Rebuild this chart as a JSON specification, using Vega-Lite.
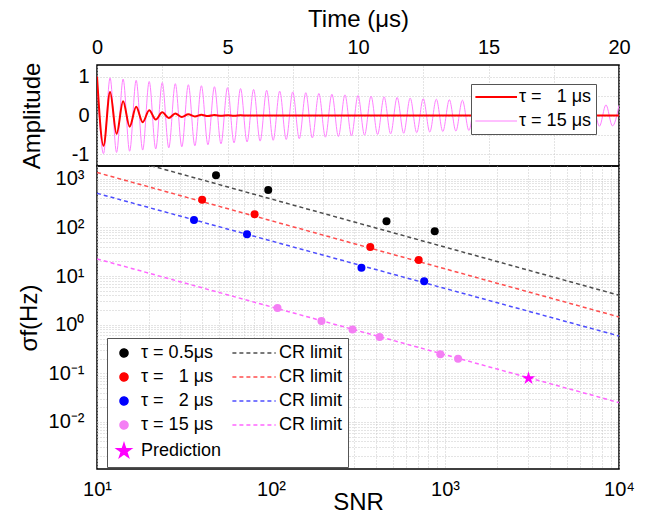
{
  "$schema": "https://vega.github.io/schema/vega-lite/v6.json",
  "padding": {"left": 16, "top": 6, "right": 5, "bottom": 0},
  "background": "white",
  "spacing": 0,
  "bounds": "flush",
  "config": {
    "font": "Liberation Sans",
    "view": {"stroke": "black", "strokeWidth": 1.5},
    "axis": {
      "labelColor": "black", "titleColor": "black", "titleFontWeight": "normal",
      "labelFontSize": 20, "titleFontSize": 24, "tickColor": "black", "tickWidth": 1,
      "domain": false, "tickSize": 0, "gridColor": "#c8c8c8", "gridDash": [1, 2], "gridWidth": 1,
      "labelOverlap": false, "labelFlush": false, "labelFont": "Liberation Sans", "titleFont": "Liberation Sans"
    },
    "legend": {"labelFontSize": 18, "labelColor": "black", "labelFont": "Liberation Sans"}
  },
  "resolve": {"scale": {"color": "independent"}, "legend": {"color": "independent"}},
  "vconcat": [
    {
      "width": 522,
      "height": 101,
      "layer": [
        {
          "data": {"values": [
            {"t":0,"a":1},{"t":0.25,"a":-0.983},{"t":0.5,"a":0.967},{"t":0.75,"a":-0.951},{"t":1,"a":0.936},
            {"t":1.25,"a":-0.92},{"t":1.5,"a":0.905},{"t":1.75,"a":-0.89},{"t":2,"a":0.875},{"t":2.25,"a":-0.861},
            {"t":2.5,"a":0.846},{"t":2.75,"a":-0.832},{"t":3,"a":0.819},{"t":3.25,"a":-0.805},{"t":3.5,"a":0.792},
            {"t":3.75,"a":-0.779},{"t":4,"a":0.766},{"t":4.25,"a":-0.753},{"t":4.5,"a":0.741},{"t":4.75,"a":-0.729},
            {"t":5,"a":0.717},{"t":5.25,"a":-0.705},{"t":5.5,"a":0.693},{"t":5.75,"a":-0.682},{"t":6,"a":0.67},
            {"t":6.25,"a":-0.659},{"t":6.5,"a":0.648},{"t":6.75,"a":-0.638},{"t":7,"a":0.627},{"t":7.25,"a":-0.617},
            {"t":7.5,"a":0.607},{"t":7.75,"a":-0.597},{"t":8,"a":0.587},{"t":8.25,"a":-0.577},{"t":8.5,"a":0.567},
            {"t":8.75,"a":-0.558},{"t":9,"a":0.549},{"t":9.25,"a":-0.54},{"t":9.5,"a":0.531},{"t":9.75,"a":-0.522},
            {"t":10,"a":0.513},{"t":10.25,"a":-0.505},{"t":10.5,"a":0.497},{"t":10.75,"a":-0.488},{"t":11,"a":0.48},
            {"t":11.25,"a":-0.472},{"t":11.5,"a":0.465},{"t":11.75,"a":-0.457},{"t":12,"a":0.449},{"t":12.25,"a":-0.442},
            {"t":12.5,"a":0.435},{"t":12.75,"a":-0.427},{"t":13,"a":0.42},{"t":13.25,"a":-0.413},{"t":13.5,"a":0.407},
            {"t":13.75,"a":-0.4},{"t":14,"a":0.393},{"t":14.25,"a":-0.387},{"t":14.5,"a":0.38},{"t":14.75,"a":-0.374},
            {"t":15,"a":0.368},{"t":15.25,"a":-0.362},{"t":15.5,"a":0.356},{"t":15.75,"a":-0.35},{"t":16,"a":0.344},
            {"t":16.25,"a":-0.338},{"t":16.5,"a":0.333},{"t":16.75,"a":-0.327},{"t":17,"a":0.322},{"t":17.25,"a":-0.317},
            {"t":17.5,"a":0.311},{"t":17.75,"a":-0.306},{"t":18,"a":0.301},{"t":18.25,"a":-0.296},{"t":18.5,"a":0.291},
            {"t":18.75,"a":-0.287},{"t":19,"a":0.282},{"t":19.25,"a":-0.277},{"t":19.5,"a":0.273},{"t":19.75,"a":-0.268},
            {"t":20,"a":0.264}
          ]},
          "mark": {"type": "line", "interpolate": "monotone", "strokeWidth": 1, "clip": true},
          "encoding": {
            "x": {"field": "t", "type": "quantitative", "scale": {"domain": [0, 20], "nice": false},
              "axis": {"orient": "top", "values": [0,2.5,5,7.5,10,12.5,15,17.5,20], "title": "Time (μs)", "titlePadding": 6, "labelPadding": 8,
                "labelExpr": "datum.value % 5 == 0 ? format(datum.value, 'd') : ''", "grid": true,
                "encode": {"ticks": {"update": {"y2": {"signal": "datum.value % 5 == 0 ? 6 : 4"}}}}}},
            "y": {"field": "a", "type": "quantitative", "scale": {"domain": [-1.3, 1.3], "nice": false, "zero": false},
              "axis": {"orient": "left", "values": [-1,-0.5,0,0.5,1], "title": "Amplitude", "titlePadding": 27, "labelPadding": 8,
                "labelExpr": "datum.value == 1 ? '1' : datum.value == 0 ? '0' : datum.value == -1 ? '-1' : ''", "grid": true,
                "encode": {"ticks": {"update": {"x2": {"signal": "datum.value % 1 == 0 ? 6 : 4"}}}}}},
            "color": {"datum": "τ = 15 μs", "type": "nominal",
              "scale": {"domain": ["τ = 1 μs", "τ = 15 μs"], "range": ["#ff0000", "#ff80ff"]},
              "legend": {"title": null, "orient": "none", "legendX": 374, "legendY": 19, "padding": 4, "rowPadding": 6,
                "labelFontSize": 18, "labelOffset": 26, "symbolOffset": 0, "symbolSize": 64, "symbolStrokeWidth": 1.5,
                "strokeColor": "#555555", "fillColor": "white",
                "labelExpr": "datum.value == 'τ = 1 μs' ? 'τ = \u00a0\u00a01 μs' : datum.value",
                "encode": {"symbols": {"update": {
                  "shape": {"value": "M-2.15,0L8.25,0"},
                  "fill": {"value": "transparent"},
                  "stroke": {"signal": "datum.value == 'τ = 1 μs' ? '#ff0000' : '#ff80ff'"},
                  "strokeWidth": {"signal": "datum.value == 'τ = 1 μs' ? 2 : 1"},
                  "opacity": {"value": 1}
                }}}}}
          }
        },
        {
          "data": {"values": [
            {"t":0,"a":1},{"t":0.25,"a":-0.779},{"t":0.5,"a":0.607},{"t":0.75,"a":-0.472},{"t":1,"a":0.368},
            {"t":1.25,"a":-0.287},{"t":1.5,"a":0.223},{"t":1.75,"a":-0.174},{"t":2,"a":0.135},{"t":2.25,"a":-0.105},
            {"t":2.5,"a":0.082},{"t":2.75,"a":-0.064},{"t":3,"a":0.05},{"t":3.25,"a":-0.039},{"t":3.5,"a":0.03},
            {"t":3.75,"a":-0.024},{"t":4,"a":0.018},{"t":4.25,"a":-0.014},{"t":4.5,"a":0.011},{"t":4.75,"a":-0.009},
            {"t":5,"a":0.007},{"t":5.25,"a":-0.005},{"t":5.5,"a":0.004},{"t":5.75,"a":0},{"t":20,"a":0}
          ]},
          "mark": {"type": "line", "interpolate": "monotone", "strokeWidth": 2, "clip": true},
          "encoding": {
            "x": {"field": "t", "type": "quantitative", "scale": {"domain": [0, 20], "nice": false},
              "axis": {"orient": "bottom", "values": [0,2.5,5,7.5,10,12.5,15,17.5,20], "labels": false, "title": null, "grid": false,
                "encode": {"ticks": {"update": {"y2": {"signal": "datum.value % 5 == 0 ? -6 : -4"}}}}}},
            "y": {"field": "a", "type": "quantitative", "scale": {"domain": [-1.3, 1.3], "nice": false, "zero": false},
              "axis": {"orient": "right", "values": [-1,-0.5,0,0.5,1], "labels": false, "title": null, "grid": false,
                "encode": {"ticks": {"update": {"x2": {"signal": "datum.value % 1 == 0 ? -6 : -4"}}}}}},
            "color": {"datum": "τ = 1 μs", "type": "nominal",
              "scale": {"domain": ["τ = 1 μs", "τ = 15 μs"], "range": ["#ff0000", "#ff80ff"]}}
          }
        }
      ],
      "resolve": {"axis": {"x": "independent", "y": "independent"}}
    },
    {
      "width": 522,
      "height": 303,
      "layer": [
        {
          "data": {"values": [
            {"series": "CR 0.5", "snr": 10, "sigma": 3750}, {"series": "CR 0.5", "snr": 10000, "sigma": 4.02},
            {"series": "CR 1", "snr": 10, "sigma": 1340}, {"series": "CR 1", "snr": 10000, "sigma": 1.44},
            {"series": "CR 2", "snr": 10, "sigma": 500}, {"series": "CR 2", "snr": 10000, "sigma": 0.585},
            {"series": "CR 15", "snr": 10, "sigma": 22.5}, {"series": "CR 15", "snr": 10000, "sigma": 0.025}
          ]},
          "mark": {"type": "line", "strokeDash": [4, 3], "strokeWidth": 1.5, "clip": true},
          "encoding": {
            "x": {"field": "snr", "type": "quantitative", "scale": {"type": "log", "domain": [10, 10000], "nice": false},
              "axis": {"orient": "bottom", "values": [10,20,30,40,50,60,70,80,90,100,200,300,400,500,600,700,800,900,1000,2000,3000,4000,5000,6000,7000,8000,9000,10000],
                "title": "SNR", "titlePadding": -9, "labelPadding": 10,
                "labelExpr": "datum.value == 10 ? '10¹' : datum.value == 100 ? '10²' : datum.value == 1000 ? '10³' : datum.value == 10000 ? '10⁴' : ''",
                "grid": true,
                "encode": {"ticks": {"update": {"y2": {"signal": "indexof([10,100,1000,10000], datum.value) >= 0 ? -6 : -3"}}}}}},
            "y": {"field": "sigma", "type": "quantitative", "scale": {"type": "log", "domain": [0.00108, 1824], "nice": false},
              "axis": {"orient": "left", "values": [0.002,0.003,0.004,0.005,0.006,0.007,0.008,0.009,0.01,0.02,0.03,0.04,0.05,0.06,0.07,0.08,0.09,0.1,0.2,0.3,0.4,0.5,0.6,0.7,0.8,0.9,1,2,3,4,5,6,7,8,9,10,20,30,40,50,60,70,80,90,100,200,300,400,500,600,700,800,900,1000],
                "title": "σf(Hz)", "titlePadding": 7, "labelPadding": 13,
                "labelExpr": "datum.value == 0.01 ? '10⁻²' : datum.value == 0.1 ? '10⁻¹' : datum.value == 1 ? '10⁰' : datum.value == 10 ? '10¹' : datum.value == 100 ? '10²' : datum.value == 1000 ? '10³' : ''",
                "grid": true,
                "encode": {"ticks": {"update": {"x2": {"signal": "indexof([0.01,0.1,1,10,100,1000], datum.value) >= 0 ? 6 : 3"}}}}}},
            "color": {"field": "series", "type": "nominal",
              "scale": {"domain": ["τ = 0.5μs", "τ = 1 μs", "τ = 2 μs", "τ = 15 μs", "Prediction", "CR 0.5", "CR 1", "CR 2", "CR 15"],
                "range": ["#000000", "#ff0000", "#0000ff", "#f47ff4", "#ff00ff", "#4d4d4d", "#ff4d4d", "#4d4dff", "#ff66ff"]},
              "legend": {"title": null, "orient": "none", "legendX": 10, "legendY": 172, "columns": 2, "columnPadding": 7, "rowPadding": 6,
                "padding": 6, "labelFontSize": 18, "labelOffset": 8, "symbolOffset": 2, "symbolSize": 64, "symbolStrokeWidth": 1.5,
                "strokeColor": "#555555", "fillColor": "white",
                "labelExpr": "indexof(datum.value, 'CR') == 0 ? 'CR limit' : datum.value == 'Prediction' ? '\u00a0\u00a0Prediction' : datum.value == 'τ = 1 μs' ? 'τ = \u00a0\u00a01 μs' : datum.value == 'τ = 2 μs' ? 'τ = \u00a0\u00a02 μs' : datum.value",
                "encode": {"symbols": {"update": {
                  "shape": {"signal": "indexof(datum.value, 'CR') == 0 ? 'M-7.4,0L3.42,0' : datum.value == 'Prediction' ? 'M0,-1.875L0.421,-0.579L1.783,-0.579L0.681,0.221L1.102,1.517L0,0.716L-1.102,1.517L-0.681,0.221L-1.783,-0.579L-0.421,-0.579Z' : 'circle'"},
                  "fill": {"signal": "indexof(datum.value, 'CR') == 0 ? 'transparent' : ['#000000','#ff0000','#0000ff','#f47ff4','#ff00ff','#4d4d4d','#ff4d4d','#4d4dff','#ff66ff'][indexof(['τ = 0.5μs','τ = 1 μs','τ = 2 μs','τ = 15 μs','Prediction','CR 0.5','CR 1','CR 2','CR 15'], datum.value)]"},
                  "stroke": {"signal": "indexof(datum.value, 'CR') == 0 ? ['#000000','#ff0000','#0000ff','#f47ff4','#ff00ff','#4d4d4d','#ff4d4d','#4d4dff','#ff66ff'][indexof(['τ = 0.5μs','τ = 1 μs','τ = 2 μs','τ = 15 μs','Prediction','CR 0.5','CR 1','CR 2','CR 15'], datum.value)] : 'transparent'"},
                  "strokeDash": {"signal": "indexof(datum.value, 'CR') == 0 ? [4, 3] : [1, 0]"},
                  "opacity": {"value": 1}
                }}}}}
          }
        },
        {
          "data": {"values": [
            {"series": "τ = 0.5μs", "snr": 48.3, "sigma": 1175}, {"series": "τ = 0.5μs", "snr": 96.4, "sigma": 586},
            {"series": "τ = 0.5μs", "snr": 461, "sigma": 133}, {"series": "τ = 0.5μs", "snr": 873, "sigma": 83},
            {"series": "τ = 1 μs", "snr": 40.2, "sigma": 370}, {"series": "τ = 1 μs", "snr": 80.5, "sigma": 185},
            {"series": "τ = 1 μs", "snr": 372, "sigma": 39.5}, {"series": "τ = 1 μs", "snr": 706, "sigma": 21.3},
            {"series": "τ = 2 μs", "snr": 36.1, "sigma": 142}, {"series": "τ = 2 μs", "snr": 72.8, "sigma": 72},
            {"series": "τ = 2 μs", "snr": 331, "sigma": 14.8}, {"series": "τ = 2 μs", "snr": 759, "sigma": 7.8},
            {"series": "τ = 15 μs", "snr": 109, "sigma": 2.2}, {"series": "τ = 15 μs", "snr": 195, "sigma": 1.19},
            {"series": "τ = 15 μs", "snr": 294, "sigma": 0.8}, {"series": "τ = 15 μs", "snr": 421, "sigma": 0.56},
            {"series": "τ = 15 μs", "snr": 940, "sigma": 0.248}, {"series": "τ = 15 μs", "snr": 1189, "sigma": 0.2}
          ]},
          "mark": {"type": "circle", "size": 64, "opacity": 1},
          "encoding": {
            "x": {"field": "snr", "type": "quantitative", "scale": {"type": "log", "domain": [10, 10000], "nice": false},
              "axis": {"orient": "top", "values": [10,20,30,40,50,60,70,80,90,100,200,300,400,500,600,700,800,900,1000,2000,3000,4000,5000,6000,7000,8000,9000,10000],
                "labels": false, "title": null, "grid": false,
                "encode": {"ticks": {"update": {"y2": {"signal": "indexof([10,100,1000,10000], datum.value) >= 0 ? 6 : 3"}}}}}},
            "y": {"field": "sigma", "type": "quantitative", "scale": {"type": "log", "domain": [0.00108, 1824], "nice": false},
              "axis": {"orient": "right", "values": [0.002,0.003,0.004,0.005,0.006,0.007,0.008,0.009,0.01,0.02,0.03,0.04,0.05,0.06,0.07,0.08,0.09,0.1,0.2,0.3,0.4,0.5,0.6,0.7,0.8,0.9,1,2,3,4,5,6,7,8,9,10,20,30,40,50,60,70,80,90,100,200,300,400,500,600,700,800,900,1000],
                "labels": false, "title": null, "grid": false,
                "encode": {"ticks": {"update": {"x2": {"signal": "indexof([0.01,0.1,1,10,100,1000], datum.value) >= 0 ? -6 : -3"}}}}}},
            "color": {"field": "series", "type": "nominal",
              "scale": {"domain": ["τ = 0.5μs", "τ = 1 μs", "τ = 2 μs", "τ = 15 μs", "Prediction", "CR 0.5", "CR 1", "CR 2", "CR 15"],
                "range": ["#000000", "#ff0000", "#0000ff", "#f47ff4", "#ff00ff", "#4d4d4d", "#ff4d4d", "#4d4dff", "#ff66ff"]}}
          }
        },
        {
          "data": {"values": [{"series": "Prediction", "snr": 3020, "sigma": 0.079}]},
          "mark": {"type": "point", "shape": "M0,-1.875L0.421,-0.579L1.783,-0.579L0.681,0.221L1.102,1.517L0,0.716L-1.102,1.517L-0.681,0.221L-1.783,-0.579L-0.421,-0.579Z", "filled": true, "size": 56, "opacity": 1},
          "encoding": {
            "x": {"field": "snr", "type": "quantitative", "scale": {"type": "log", "domain": [10, 10000], "nice": false}, "axis": null},
            "y": {"field": "sigma", "type": "quantitative", "scale": {"type": "log", "domain": [0.00108, 1824], "nice": false}, "axis": null},
            "color": {"field": "series", "type": "nominal",
              "scale": {"domain": ["τ = 0.5μs", "τ = 1 μs", "τ = 2 μs", "τ = 15 μs", "Prediction", "CR 0.5", "CR 1", "CR 2", "CR 15"],
                "range": ["#000000", "#ff0000", "#0000ff", "#f47ff4", "#ff00ff", "#4d4d4d", "#ff4d4d", "#4d4dff", "#ff66ff"]}}
          }
        }
      ],
      "resolve": {"axis": {"x": "independent", "y": "independent"}}
    }
  ]
}
